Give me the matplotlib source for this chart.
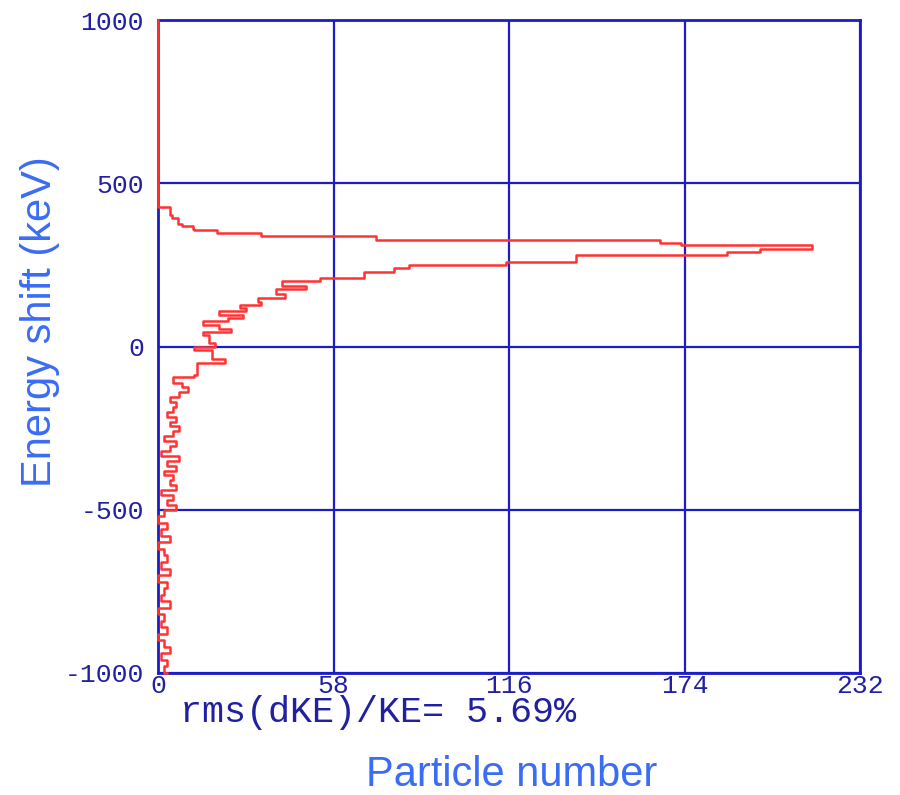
import matplotlib
matplotlib.use("Agg")
import matplotlib.pyplot as plt

# Energy shift (keV) of each step level, from top to bottom, and the particle count there
energy = [1000, 427, 403, 394, 375, 369, 360, 357, 348, 339, 326, 317, 311, 299, 288, 280,
          259, 250, 239, 228, 210, 202, 186, 176, 160, 150, 136, 128, 118, 108, 96, 88,
          78, 66, 54, 44, 34, 12, -2, -10, -38, -50, -86, -92, -112, -124,
          -140, -155, -170, -185, -200, -215, -230, -245, -260, -275, -290, -305, -320,
          -335, -350, -365, -380, -395, -410, -425, -440, -455, -470, -485, -500, -520,
          -540, -560, -580, -600, -620, -640, -660, -680, -700, -720, -740, -760, -780,
          -800, -820, -840, -860, -880, -900, -920, -940, -960, -980, -1000]
counts = [0, 4, 4.6, 6.6, 8, 11.6, 12, 19.5, 34, 72, 166, 173, 216, 199, 188, 138,
          115, 83, 78, 68, 53.5, 41, 49, 39, 42, 33, 34, 27, 29, 20, 28, 23,
          15, 20, 24, 15, 17, 19, 12, 18, 22, 13, 12, 5, 8, 10,
          7, 4, 6, 5, 3, 6, 4, 7, 5, 2, 6, 4, 1,
          7, 3, 6, 2, 5, 4, 6, 1, 5, 3, 6, 2, 0,
          3, 1, 4, 0, 2, 3, 1, 4, 0, 3, 2, 1, 4,
          0, 2, 1, 3, 0, 2, 4, 1, 3, 2, 3]

xticks = [0, 58, 116, 174, 232]
yticks = [-1000, -500, 0, 500, 1000]
stat_text = "rms(dKE)/KE= 5.69%"

frame_blue = "#1c1cc8"
tick_blue = "#2020a0"
label_blue = "#3a6cf4"

fig = plt.figure(figsize=(9, 7.95), dpi=100)
ax = fig.add_axes([158/900, 1-673/795, (860-158)/900, (673-20)/795])

ax.plot(counts, energy, drawstyle="steps-pre", color="#ff3333", lw=1.8,
        clip_on=False, zorder=5)

ax.set_xlim(0, 232)
ax.set_ylim(-1000, 1000)
ax.set_xticks(xticks)
ax.set_yticks(yticks)
ax.set_xticklabels([str(v) for v in xticks])
ax.set_yticklabels([str(v) for v in yticks])
ax.tick_params(length=0, labelsize=19, labelcolor=tick_blue, pad=4)
for lab in ax.get_xticklabels() + ax.get_yticklabels():
    lab.set_fontfamily("Liberation Mono")
ax.tick_params(axis="y", pad=10)
ax.tick_params(axis="x", pad=1)
ax.grid(True, color=frame_blue, lw=1.6)
ax.set_axisbelow(True)
for sp in ax.spines.values():
    sp.set_color(frame_blue)
    sp.set_linewidth(2)

fig.text(180/900, 1-712/795, stat_text, family="Liberation Mono", fontsize=26.5,
         color=tick_blue, ha="left", va="center")
fig.text(40/900, 1-322/795, "Energy shift (keV)", family="Liberation Sans",
         fontsize=30, color=label_blue, rotation=90, ha="center", va="center")
fig.text(512/900, 1-775/795, "Particle number", family="Liberation Sans",
         fontsize=30, color=label_blue, ha="center", va="center")

fig.savefig("out.png", dpi=100)
